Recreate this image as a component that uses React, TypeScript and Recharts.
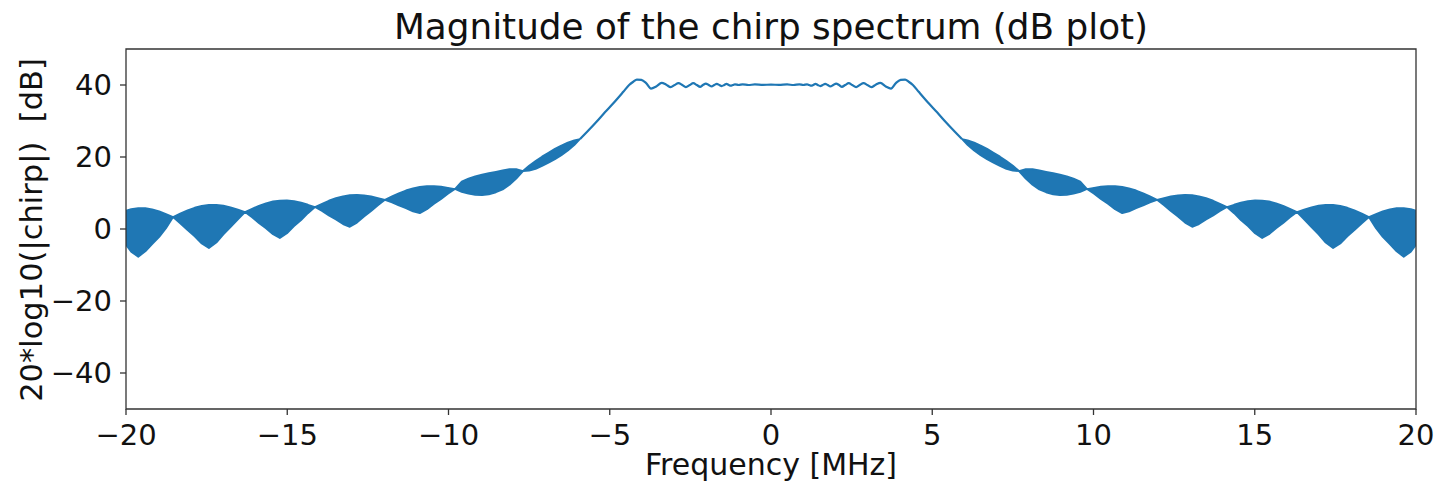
import {
  ComposedChart,
  Area,
  Line,
  XAxis,
  YAxis,
  ReferenceArea,
} from "recharts";

// left tail: dense oscillation band, drawn as lower/upper envelope
const leftBandFreq = [
  -20, -19.84, -19.62, -19.4, -19.19, -18.97, -18.76,
  -18.54, -18.32, -18.09, -17.87, -17.65, -17.43, -17.2, -16.98, -16.76, -16.53,
  -16.31, -16.09, -15.88, -15.66, -15.44, -15.23, -15.01, -14.79, -14.57, -14.36,
  -14.14, -13.92, -13.71, -13.49, -13.27, -13.06, -12.84, -12.62, -12.4, -12.19,
  -11.97, -11.75, -11.54, -11.32, -11.1, -10.89, -10.67, -10.45, -10.23, -10.02,
  -9.8, -9.59, -9.38, -9.17, -8.96, -8.75, -8.53, -8.32, -8.11, -7.9,
  -7.69, -7.5, -7.3, -7.1, -6.9, -6.7, -6.5, -6.3, -6.1, -5.92,
];
const leftBandUpper = [
  5.1, 5.52, 5.8, 5.78, 5.46, 4.9, 4.15,
  3.3, 4.28, 5.17, 5.91, 6.43, 6.7, 6.71, 6.47, 6.01, 5.4,
  4.7, 5.62, 6.46, 7.15, 7.64, 7.9, 7.92, 7.71, 7.3, 6.74,
  6.1, 7.01, 7.86, 8.56, 9.09, 9.4, 9.49, 9.36, 9.06, 8.61,
  8.1, 9.05, 9.94, 10.7, 11.3, 11.7, 11.9, 11.9, 11.74, 11.45,
  11.1, 13.2, 14.0, 14.6, 15.1, 15.5, 15.9, 16.3, 16.6, 16.6,
  16.1, 17.6, 18.9, 20.1, 21.2, 22.3, 23.2, 24.0, 24.6, 25.0,
];
const leftBandLower = [
  -4.4, -6.3, -7.7, -6.2, -4.2, -2.2, 0.2,
  3.3, 1.58, -0.33, -2.05, -4.05, -5.3, -3.77, -1.49, 0.51, 2.7,
  4.7, 3.26, 1.66, 0.22, -1.46, -2.5, -1.18, 0.78, 2.5, 4.38,
  6.1, 5.0, 3.77, 2.67, 1.37, 0.6, 1.77, 3.47, 4.97, 6.6,
  8.1, 7.36, 6.52, 5.78, 4.88, 4.4, 5.48, 6.98, 8.32, 9.76,
  11.1, 10.3, 9.8, 9.5, 9.4, 9.6, 10.2, 11.0, 12.3, 14.0,
  16.1, 16.2, 16.7, 17.5, 18.4, 19.4, 20.5, 21.8, 23.3, 25.0,
];

// main lobe with ripple
const centerFreq = [
  -5.92, -5.65, -5.41, -5.15, -4.89, -4.58, -4.4, -4.27, -4.16, -4.02,
  -3.88, -3.72, -3.56, -3.39, -3.25, -3.11, -2.99, -2.87, -2.75, -2.64,
  -2.52, -2.41, -2.3, -2.2, -2.11, -2.02, -1.93, -1.84, -1.76, -1.68,
  -1.6, -1.53, -1.45, -1.38, -1.31, -1.25, -1.18, -1.12, -1.0, -0.88,
  -0.7, -0.5, -0.25, 0, 0.25, 0.5, 0.7, 0.88, 1.0, 1.12,
  1.18, 1.25, 1.31, 1.38, 1.45, 1.53, 1.6, 1.68, 1.76, 1.84,
  1.93, 2.02, 2.11, 2.2, 2.3, 2.41, 2.52, 2.64, 2.75, 2.87,
  2.99, 3.11, 3.25, 3.39, 3.56, 3.72, 3.88, 4.02, 4.16, 4.27,
  4.4, 4.58, 4.89, 5.15, 5.41, 5.65, 5.92,
];
const centerDb = [
  25.0, 27.5, 29.8, 32.4, 34.9, 38.1, 40.0, 40.9, 41.5, 41.4,
  40.6, 39.0, 39.6, 40.6, 40.1, 39.4, 40.0, 40.5, 40.0, 39.4,
  40.0, 40.5, 40.0, 39.5, 40.0, 40.4, 40.0, 39.6, 40.0, 40.3,
  40.0, 39.7, 40.0, 40.3, 40.0, 39.8, 40.0, 40.2, 40.0, 40.2,
  40.0, 40.15, 40.05, 40.1, 40.05, 40.15, 40.0, 40.2, 40.0, 40.2,
  40.0, 39.8, 40.0, 40.3, 40.0, 39.7, 40.0, 40.3, 40.0, 39.6,
  40.0, 40.4, 40.0, 39.5, 40.0, 40.5, 40.0, 39.4, 40.0, 40.5,
  40.0, 39.4, 40.1, 40.6, 39.6, 39.0, 40.6, 41.4, 41.5, 40.9,
  40.0, 38.1, 34.9, 32.4, 29.8, 27.5, 25.0,
];

// right tail
const rightBandFreq = [
  5.92, 6.1, 6.3, 6.5, 6.7, 6.9, 7.1, 7.3, 7.5, 7.69,
  7.9, 8.11, 8.32, 8.53, 8.75, 8.96, 9.17, 9.38, 9.59, 9.8,
  10.02, 10.23, 10.45, 10.67, 10.89, 11.1, 11.32, 11.54, 11.75, 11.97,
  12.19, 12.4, 12.62, 12.84, 13.06, 13.27, 13.49, 13.71, 13.92, 14.14,
  14.36, 14.57, 14.79, 15.01, 15.23, 15.44, 15.66, 15.88, 16.09, 16.31,
  16.53, 16.76, 16.98, 17.2, 17.43, 17.65, 17.87, 18.09, 18.32, 18.54,
  18.76, 18.97, 19.19, 19.4, 19.62, 19.84, 20,
];
const rightBandUpper = [
  25.0, 24.6, 24.0, 23.2, 22.3, 21.2, 20.1, 18.9, 17.6, 16.1,
  16.6, 16.6, 16.3, 15.9, 15.5, 15.1, 14.6, 14.0, 13.2, 11.1,
  11.45, 11.74, 11.9, 11.9, 11.7, 11.3, 10.7, 9.94, 9.05, 8.1,
  8.61, 9.06, 9.36, 9.49, 9.4, 9.09, 8.56, 7.86, 7.01, 6.1,
  6.74, 7.3, 7.71, 7.92, 7.9, 7.64, 7.15, 6.46, 5.62, 4.7,
  5.4, 6.01, 6.47, 6.71, 6.7, 6.43, 5.91, 5.17, 4.28, 3.3,
  4.15, 4.9, 5.46, 5.78, 5.8, 5.52, 5.1,
];
const rightBandLower = [
  25.0, 23.3, 21.8, 20.5, 19.4, 18.4, 17.5, 16.7, 16.2, 16.1,
  14.0, 12.3, 11.0, 10.2, 9.6, 9.4, 9.5, 9.8, 10.3, 11.1,
  9.76, 8.32, 6.98, 5.48, 4.4, 4.88, 5.78, 6.52, 7.36, 8.1,
  6.6, 4.97, 3.47, 1.77, 0.6, 1.37, 2.67, 3.77, 5.0, 6.1,
  4.38, 2.5, 0.78, -1.18, -2.5, -1.46, 0.22, 1.66, 3.26, 4.7,
  2.7, 0.51, -1.49, -3.77, -5.3, -4.05, -2.05, -0.33, 1.58, 3.3,
  0.2, -2.2, -4.2, -6.2, -7.7, -6.3, -4.4,
];

const FREQ_TICKS = [-20, -15, -10, -5, 0, 5, 10, 15, 20];
const DB_TICKS = [-40, -20, 0, 20, 40];

const BLUE = "#1f77b4";
const FONT = "'DejaVu Sans', sans-serif";

const rows = [
  ...leftBandFreq.map((f, i) => ({ freq: f, band: [leftBandLower[i], leftBandUpper[i]] })),
  ...centerFreq.map((f, i) => ({ freq: f, db: centerDb[i] })),
  ...rightBandFreq.map((f, i) => ({ freq: f, band: [rightBandLower[i], rightBandUpper[i]] })),
];

const fmt = (v: number) => (v < 0 ? `\u2212${-v}` : `${v}`);

const W = 1428;
const H = 474;

export default function App() {
  return (
    <div style={{ position: "relative", width: W, height: H, fontFamily: FONT }}>
      <ComposedChart
        width={W}
        height={H}
        data={rows}
        margin={{ top: 41, right: 20, bottom: 23, left: 48 }}
      >
        <XAxis
          type="number"
          dataKey="freq"
          domain={[-20, 20]}
          ticks={FREQ_TICKS}
          interval={0}
          allowDataOverflow
          height={50}
          axisLine={false}
          tickSize={6}
          tickMargin={9}
          tickLine={{ stroke: "#333", strokeWidth: 1.3 }}
          tick={{ fill: "#111", fontSize: 29, fontFamily: FONT }}
          tickFormatter={fmt}
        />
        <YAxis
          type="number"
          domain={[-50, 50]}
          ticks={DB_TICKS}
          interval={0}
          allowDataOverflow
          width={70}
          axisLine={false}
          tickSize={6}
          tickMargin={8}
          tickLine={{ stroke: "#333", strokeWidth: 1.3 }}
          tick={{ fill: "#111", fontSize: 29, fontFamily: FONT }}
          tickFormatter={fmt}
        />
        <Area
          dataKey="band"
          type="linear"
          fill={BLUE}
          fillOpacity={1}
          stroke={BLUE}
          strokeWidth={1.8}
          strokeLinejoin="round"
          isAnimationActive={false}
          dot={false}
          activeDot={false}
        />
        <Line
          dataKey="db"
          type="monotone"
          stroke={BLUE}
          strokeWidth={2.2}
          dot={false}
          activeDot={false}
          isAnimationActive={false}
        />
        <ReferenceArea
          x1={-20}
          x2={20}
          y1={-50}
          y2={50}
          fill="none"
          fillOpacity={0}
          stroke="#333"
          strokeWidth={1.3}
          ifOverflow="visible"
        />
      </ComposedChart>
      <svg
        width={W}
        height={H}
        style={{ position: "absolute", left: 0, top: 0, pointerEvents: "none", overflow: "visible" }}
      >
        <text x={763} y={31} textAnchor="middle" fontSize={35.8} fill="#111" fontFamily={FONT}>
          Magnitude of the chirp spectrum (dB plot)
        </text>
        <text x={763} y={467} textAnchor="middle" fontSize={30} fill="#111" fontFamily={FONT}>
          Frequency [MHz]
        </text>
        <text
          transform="translate(34, 222) rotate(-90)"
          textAnchor="middle"
          fontSize={30.5}
          fill="#111"
          fontFamily={FONT}
          style={{ whiteSpace: "pre" }}
        >
          {"20*log10(|chirp|)  [dB]"}
        </text>
      </svg>
    </div>
  );
}
